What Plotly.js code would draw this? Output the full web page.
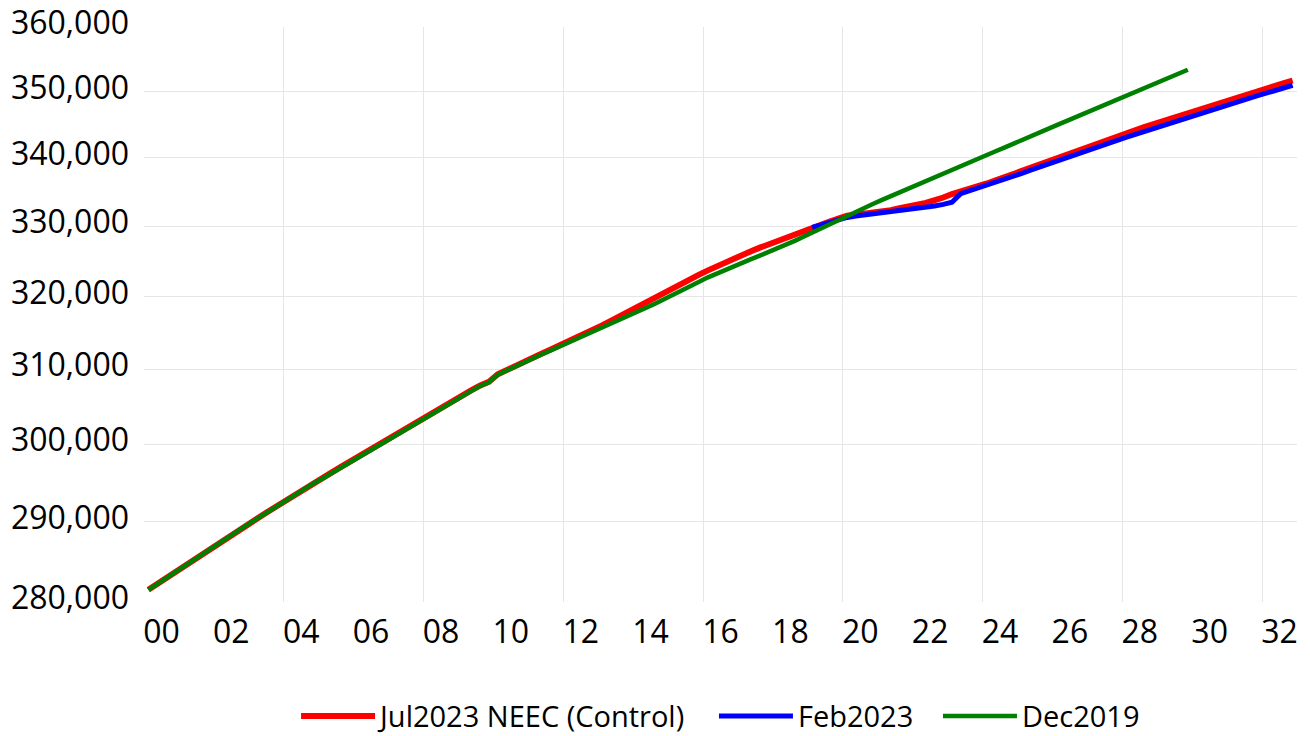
<!DOCTYPE html>
<html>
<head>
<meta charset="utf-8">
<script src="https://cdn.plot.ly/plotly-3.0.1.min.js"></script>
<style>html,body{margin:0;padding:0;background:#fff;}#chart{width:1310px;height:736px;}</style>
</head>
<body>
<div id="chart"></div>
<script>
// Quarterly series, first quarter of 2000 onward (thousands of persons)
const startYear = 2000;
const seriesNames = ["Jul2023 NEEC (Control)", "Feb2023", "Dec2019"];
const seriesColors = ["#ff0000", "#0000ff", "#008000"];

const jul2023 = [
  281500, 282220, 282940, 283660,
  284380, 285100, 285820, 286530,
  287240, 287950, 288660, 289370,
  290080, 290790, 291500, 292210,
  292900, 293590, 294280, 294960,
  295640, 296320, 297000, 297680,
  298360, 299050, 299740, 300430,
  301120, 301810, 302500, 303190,
  303880, 304560, 305230, 305890,
  306540, 307170, 307800, 308300,
  309300, 309900, 310480, 311020,
  311560, 312100, 312630, 313160,
  313700, 314270, 314850, 315420,
  316000, 316650, 317300, 317950,
  318640, 319260, 319880, 320500,
  321150, 321780, 322410, 323030,
  323640, 324220, 324790, 325350,
  325880, 326400, 326900, 327390,
  327850, 328320, 328780, 329230,
  329750, 330200, 330640, 331080,
  331500, 331650, 331780, 331900,
  332050, 332300, 332600, 332950,
  333100, 333350, 333700, 334150,
  334650, 335000, 335350, 335700,
  336200, 336660, 337120, 337580,
  338250, 338720, 339190, 339650,
  340110, 340570, 341030, 341480,
  341930, 342380, 342830, 343270,
  343710, 344150, 344590, 345020,
  345450, 345880, 346310, 346730,
  347150, 347570, 347990, 348400,
  348810, 349220, 349630, 350040,
  350450, 350860, 351270, 351680
];

// Feb2023 vintage starts in the first quarter of 2019
const feb2023Start = 2019;
const feb2023 = [
  329800, 330200, 330600, 330950,
  331250, 331450, 331600, 331720,
  331850, 332000, 332150, 332320,
  332480, 332680, 332900, 333150,
  333450, 334700, 335100, 335500,
  335950, 336400, 336840, 337270,
  337700, 338160, 338620, 339080,
  339530, 339980, 340430, 340880,
  341320, 341760, 342200, 342640,
  343080, 343510, 343940, 344370,
  344800, 345220, 345640, 346060,
  346480, 346900, 347310, 347720,
  348130, 348540, 348950, 349350,
  349750, 350150, 350550, 350950
];

const dec2019 = [
  281500, 282220, 282940, 283660,
  284380, 285100, 285820, 286530,
  287240, 287950, 288660, 289370,
  290080, 290790, 291500, 292210,
  292900, 293590, 294280, 294960,
  295560, 296230, 296900, 297580,
  298260, 298950, 299640, 300330,
  301020, 301710, 302400, 303090,
  303780, 304460, 305130, 305790,
  306440, 307070, 307720, 308220,
  309250, 309820, 310380, 310920,
  311450, 311980, 312500, 313020,
  313550, 314080, 314620, 315150,
  315680, 316220, 316760, 317300,
  317850, 318420, 318990, 319560,
  320170, 320790, 321410, 322030,
  322650, 323200, 323740, 324260,
  324770, 325270, 325760, 326250,
  326760, 327310, 327880, 328460,
  329070, 329680, 330300, 330920,
  331520, 332100, 332670, 333240,
  333800, 334360, 334920, 335480,
  336040, 336600, 337150, 337700,
  338250, 338800, 339350, 339890,
  340430, 340970, 341510, 342040,
  342610, 343180, 343750, 344320,
  344890, 345460, 346030, 346600,
  347170, 347740, 348300, 348860,
  349420, 349980, 350540, 351100,
  351660, 352220, 352780, 353340
];

const xTickLabels = ["00","02","04","06","08","10","12","14","16","18","20","22","24","26","28","30","32"];
const yTickValues = [280000, 290000, 300000, 310000, 320000, 330000, 340000, 350000, 360000];
const yTickLabels = ["280,000","290,000","300,000","310,000","320,000","330,000","340,000","350,000","360,000"];

// quarter-centre positions on a year scale
function quarterX(firstYear, n) {
  const xs = [];
  for (let i = 0; i < n; i++) xs.push(firstYear + (i + 0.5) / 4);
  return xs;
}

const widths = [6, 5, 4.5];
const valuesList = [jul2023, feb2023, dec2019];
const firstYears = [startYear, feb2023Start, startYear];
const legendIds = ["legend", "legend2", "legend3"];
const legendX = [0.226, 0.545, 0.716];

const traces = valuesList.map((vals, i) => ({
  type: "scatter",
  mode: "lines",
  name: seriesNames[i],
  legend: legendIds[i],
  x: quarterX(firstYears[i], vals.length),
  y: vals,
  line: {color: seriesColors[i], width: widths[i]},
  hoverinfo: "x+y+name"
}));

const font = "'Open Sans', 'Noto Sans', sans-serif";

const layout = {
  width: 1310,
  height: 736,
  margin: {l: 144, r: 13, t: 27, b: 134},
  paper_bgcolor: "#ffffff",
  plot_bgcolor: "#ffffff",
  font: {family: font, color: "#000000", size: 32},
  showlegend: true,
  xaxis: {
    type: "linear",
    range: [startYear, startYear + 33],
    tickmode: "array",
    tickvals: xTickLabels.map((t, i) => startYear + 0.5 + 2 * i),
    ticktext: xTickLabels,
    showgrid: false,
    zeroline: false,
    showline: false,
    ticks: "",
    ticklabelstandoff: 8,
    tickfont: {family: font, size: 32, color: "#000000"},
    minor: {tickmode: "linear", tick0: startYear, dtick: 4, showgrid: true, gridcolor: "#e6e6e6", gridwidth: 1, ticks: ""}
  },
  yaxis: {
    type: "log",
    range: [Math.log10(280000), Math.log10(360000)],
    tickmode: "array",
    tickvals: yTickValues,
    ticktext: yTickLabels,
    showgrid: true,
    gridcolor: "#e6e6e6",
    gridwidth: 1,
    zeroline: false,
    showline: false,
    ticks: "",
    ticklabelstandoff: 14,
    ticklabelshift: -4,
    tickfont: {family: font, size: 32, color: "#000000"}
  }
};

legendIds.forEach((id, i) => {
  layout[id] = {
    orientation: "h",
    xref: "container", x: legendX[i], xanchor: "left",
    yref: "container", y: 0.027, yanchor: "middle",
    itemwidth: 74,
    font: {family: font, size: 29, color: "#000000"},
    bgcolor: "rgba(0,0,0,0)"
  };
});

Plotly.newPlot("chart", traces, layout, {displayModeBar: false, staticPlot: true});
</script>
</body>
</html>
